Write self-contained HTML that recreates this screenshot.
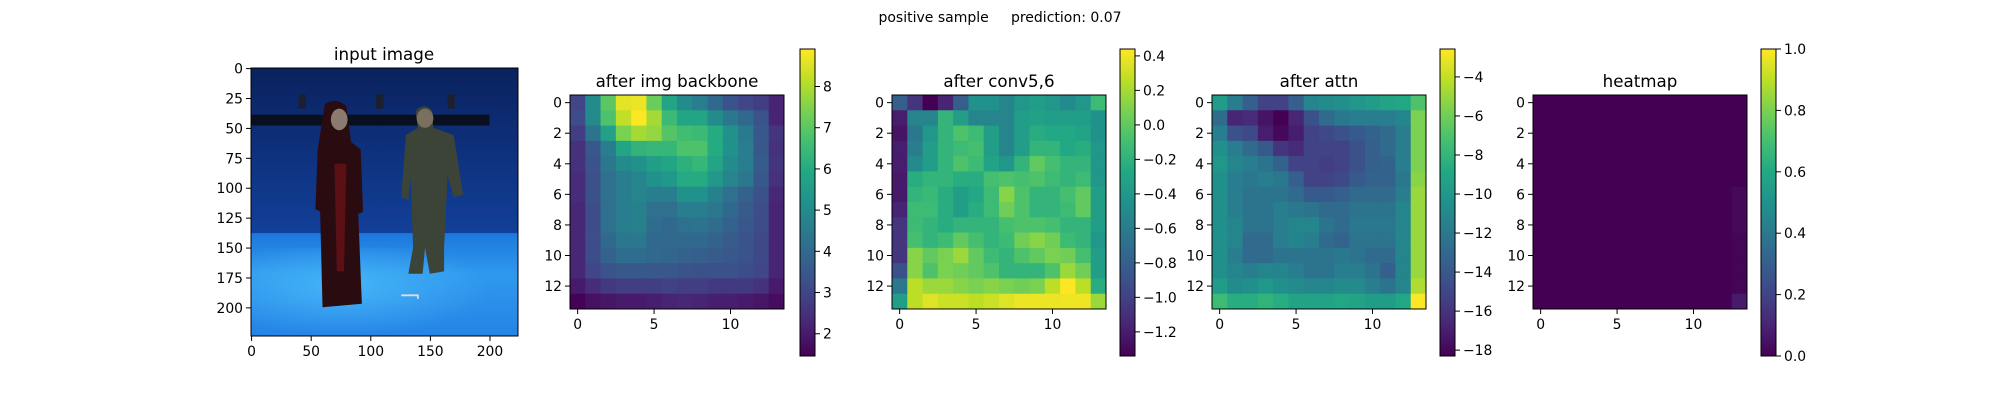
<!DOCTYPE html>
<html><head><meta charset="utf-8">
<style>
body{margin:0;background:#fff;}
svg{display:block;font-family:"DejaVu Sans","Liberation Sans",sans-serif;}
</style></head>
<body>
<svg id="fig" width="2000" height="400" viewBox="0 0 2000 400" xmlns="http://www.w3.org/2000/svg">
<rect width="2000" height="400" fill="#fff"/>
<text x="1000" y="22" font-size="14" text-anchor="middle" xml:space="preserve">positive sample     prediction: 0.07</text>
<g>
<text x="384" y="60" font-size="16.7" text-anchor="middle">input image</text>
<svg x="251" y="68" width="267" height="268" viewBox="0 0 224 224" preserveAspectRatio="none">
<defs>
<linearGradient id="wall" x1="0" y1="0" x2="0" y2="1"><stop offset="0" stop-color="#0a225e"/><stop offset="1" stop-color="#12409a"/></linearGradient>
<linearGradient id="floor" x1="0" y1="0" x2="0" y2="1"><stop offset="0" stop-color="#1c78dc"/><stop offset="0.4" stop-color="#2f98ee"/><stop offset="1" stop-color="#2584e6"/></linearGradient>
<radialGradient id="glow" cx="0.35" cy="0.45" r="0.55"><stop offset="0" stop-color="#55c8ff" stop-opacity="0.6"/><stop offset="1" stop-color="#55c8ff" stop-opacity="0"/></radialGradient>
</defs>
<rect width="224" height="140" fill="url(#wall)"/>
<rect y="138" width="224" height="86" fill="url(#floor)"/>
<rect y="150" width="224" height="74" fill="url(#glow)"/>
<rect x="0" y="39" width="200" height="9" fill="#0a0f20"/>
<rect x="40" y="22" width="6" height="12" fill="#1a2030"/><rect x="105" y="22" width="6" height="12" fill="#1a2030"/><rect x="165" y="22" width="6" height="12" fill="#1a2030"/>
<path d="M62 30 Q72 24 80 32 L84 62 L92 68 L94 120 L90 122 L93 197 L60 200 L58 120 L54 118 L56 68 Z" fill="#2a0c10"/>
<path d="M70 80 L80 80 L78 170 L72 170 Z" fill="#5a1015"/>
<ellipse cx="74" cy="43" rx="7" ry="9" fill="#8a7a70"/>
<path d="M138 36 Q146 28 152 36 L153 50 L170 56 L178 106 L170 108 L165 90 L162 150 L162 170 L150 172 L146 150 L144 172 L132 172 L136 150 L134 92 L132 110 L126 108 L130 56 L140 50 Z" fill="#3c4438"/>
<ellipse cx="146" cy="42" rx="7" ry="8" fill="#7a7060"/>
<path d="M126 190 L140 190 L140 193" stroke="#ddd" stroke-width="1.5" fill="none"/>
</svg>
<rect x="251" y="68" width="267" height="268" fill="none" stroke="#000" stroke-width="1"/>
</g>
<g id="panels"></g>
</svg>
<script>
// ---- data ----
const imgXTicks = [0, 50, 100, 150, 200];
const imgYTicks = [0, 25, 50, 75, 100, 125, 150, 175, 200];
const gridXTicks = [0, 5, 10];
const gridYTicks = [0, 2, 4, 6, 8, 10, 12];
const panelTitles = ["after img backbone", "after conv5,6", "after attn", "heatmap"];
const backboneRange = [1.46, 8.91];
const convRange = [-1.34, 0.44];
const attnRange = [-18.3, -2.57];
const heatRange = [0, 1];
const backboneTicks = [2, 3, 4, 5, 6, 7, 8];
const convTicks = [-1.2, -1.0, -0.8, -0.6, -0.4, -0.2, 0.0, 0.2, 0.4];
const attnTicks = [-18, -16, -14, -12, -10, -8, -6, -4];
const heatTicks = [0.0, 0.2, 0.4, 0.6, 0.8, 1.0];
const backbone = [
[3.0,5.0,7.0,8.6,8.7,7.2,5.8,5.0,4.6,4.0,3.4,3.0,2.8,2.2],
[3.2,5.0,6.8,8.2,8.9,7.9,6.5,5.8,5.8,5.0,4.4,4.0,3.4,2.2],
[2.8,4.3,5.7,7.4,7.9,7.7,6.9,6.6,6.5,6.0,5.2,4.5,3.5,2.6],
[2.5,3.5,4.6,5.8,6.3,6.4,6.4,6.8,6.8,6.0,5.2,4.6,3.5,2.5],
[2.5,3.4,4.4,5.0,5.2,5.6,5.8,6.2,6.4,5.8,5.0,4.6,3.6,2.6],
[2.4,3.3,4.2,4.6,4.8,5.2,5.4,6.0,6.0,5.4,4.8,4.4,3.5,2.5],
[2.4,3.3,4.2,4.6,4.8,4.6,4.6,5.2,5.2,4.7,4.2,3.8,3.3,2.3],
[2.3,3.2,4.2,4.6,4.7,4.2,4.2,4.6,4.6,4.4,4.0,3.6,3.2,2.2],
[2.3,3.2,4.2,4.6,4.7,4.1,4.0,4.2,4.3,4.1,3.8,3.5,3.2,2.2],
[2.3,3.2,4.0,4.4,4.4,4.0,4.0,4.0,4.0,3.8,3.6,3.4,3.1,2.2],
[2.3,3.2,3.8,4.1,4.1,4.0,3.9,3.8,3.7,3.6,3.5,3.4,3.1,2.2],
[2.3,3.0,3.4,3.5,3.5,3.5,3.5,3.4,3.3,3.3,3.3,3.2,3.0,2.2],
[2.0,2.4,2.7,2.8,2.8,2.8,2.9,2.8,2.8,2.7,2.7,2.7,2.5,2.0],
[1.5,1.8,1.9,2.0,2.0,2.1,2.2,2.3,2.2,2.1,2.1,2.0,1.9,1.7]];
const conv = [
[-0.81,-1.07,-1.34,-1.16,-0.81,-0.45,-0.45,-0.54,-0.41,-0.36,-0.41,-0.49,-0.41,-0.13],
[-1.20,-0.54,-0.54,-0.18,-0.36,-0.54,-0.54,-0.54,-0.36,-0.33,-0.36,-0.36,-0.36,-0.45],
[-1.25,-0.63,-0.41,-0.18,-0.06,-0.13,-0.36,-0.54,-0.36,-0.24,-0.27,-0.27,-0.31,-0.45],
[-1.20,-0.59,-0.36,-0.18,-0.13,-0.09,-0.36,-0.54,-0.36,-0.18,-0.18,-0.27,-0.24,-0.41],
[-1.20,-0.49,-0.36,-0.18,-0.06,-0.13,-0.31,-0.41,-0.18,0.00,-0.09,-0.18,-0.18,-0.41],
[-1.22,-0.24,-0.18,-0.18,-0.24,-0.24,-0.09,-0.06,-0.09,-0.06,-0.13,-0.18,-0.13,-0.41],
[-1.22,-0.18,-0.15,-0.24,-0.36,-0.27,-0.13,0.12,-0.06,-0.18,-0.18,-0.09,0.00,-0.36],
[-1.16,-0.13,-0.13,-0.24,-0.36,-0.24,-0.13,0.05,-0.06,-0.18,-0.18,-0.13,0.00,-0.36],
[-1.07,-0.13,-0.18,-0.24,-0.18,-0.18,-0.18,-0.09,-0.06,-0.06,-0.09,-0.18,-0.18,-0.36],
[-1.07,-0.09,-0.18,-0.13,0.00,-0.09,-0.18,-0.13,0.05,0.12,0.05,-0.13,-0.18,-0.41],
[-1.07,0.12,0.00,0.08,0.17,0.00,-0.13,-0.18,-0.06,0.00,0.08,0.05,-0.09,-0.36],
[-0.90,0.12,-0.06,0.08,0.05,0.00,-0.06,-0.18,-0.18,-0.18,-0.06,0.17,0.05,-0.36],
[-0.63,0.26,0.17,0.17,0.12,0.08,0.12,0.08,0.05,0.08,0.26,0.44,0.26,-0.24],
[-0.36,0.26,0.35,0.30,0.30,0.26,0.30,0.35,0.39,0.39,0.39,0.40,0.40,0.17]];
const attn = [
[-9.7,-11.7,-13.6,-15.2,-15.2,-13.6,-11.2,-10.8,-10.5,-10.1,-9.7,-9.2,-8.9,-7.0],
[-12.8,-16.7,-16.4,-17.5,-18.3,-16.7,-14.4,-12.8,-12.0,-11.7,-11.7,-11.7,-11.2,-5.7],
[-11.7,-14.4,-14.8,-17.0,-18.0,-17.0,-15.2,-14.8,-14.4,-13.9,-13.3,-12.8,-11.7,-5.7],
[-10.5,-11.7,-12.8,-13.9,-15.9,-16.4,-15.2,-15.2,-15.2,-14.4,-13.6,-12.8,-11.7,-5.7],
[-10.1,-11.2,-11.7,-12.3,-13.3,-15.2,-15.2,-15.5,-15.2,-14.4,-13.6,-13.3,-11.7,-5.7],
[-10.5,-11.7,-12.0,-11.7,-12.0,-13.6,-15.2,-15.2,-14.8,-13.9,-13.3,-13.3,-12.0,-5.4],
[-10.5,-11.7,-12.3,-12.3,-12.3,-12.8,-13.9,-13.9,-13.6,-12.8,-12.8,-12.8,-11.7,-5.0],
[-10.5,-11.7,-12.3,-12.3,-11.7,-12.0,-12.3,-12.8,-12.8,-12.3,-12.3,-12.3,-11.2,-5.0],
[-10.5,-11.2,-12.3,-12.3,-11.7,-11.2,-11.2,-12.3,-12.8,-12.0,-12.0,-12.0,-11.2,-5.0],
[-10.5,-11.2,-12.8,-12.8,-11.7,-11.2,-11.7,-12.8,-13.3,-12.3,-12.3,-12.3,-11.2,-5.0],
[-10.5,-11.7,-12.8,-12.8,-12.3,-12.3,-12.3,-12.3,-12.0,-12.3,-12.8,-12.8,-11.2,-5.0],
[-10.5,-11.2,-11.7,-11.2,-11.2,-11.7,-12.3,-12.3,-11.7,-11.7,-12.3,-13.6,-11.2,-5.0],
[-9.7,-10.8,-10.5,-10.1,-10.5,-10.8,-11.2,-11.2,-10.8,-10.8,-11.7,-12.3,-11.2,-4.5],
[-7.6,-8.6,-8.6,-8.1,-8.6,-9.2,-9.2,-9.2,-8.9,-9.2,-9.7,-9.7,-8.9,-2.6]];
const heat = [
[0,0,0,0,0,0,0,0,0,0,0,0,0,0],
[0,0,0,0,0,0,0,0,0,0,0,0,0,0],
[0,0,0,0,0,0,0,0,0,0,0,0,0,0],
[0,0,0,0,0,0,0,0,0,0,0,0,0,0],
[0,0,0,0,0,0,0,0,0,0,0,0,0,0],
[0,0,0,0,0,0,0,0,0,0,0,0,0,0],
[0,0,0,0,0,0,0,0,0,0,0,0,0,0.02],
[0,0,0,0,0,0,0,0,0,0,0,0,0,0.02],
[0,0,0,0,0,0,0,0,0,0,0,0,0,0.02],
[0,0,0,0,0,0,0,0,0,0,0,0,0,0.01],
[0,0,0,0,0,0,0,0,0,0,0,0,0,0.01],
[0,0,0,0,0,0,0,0,0,0,0,0,0,0.01],
[0,0,0,0,0,0,0,0,0,0,0,0,0,0.01],
[0,0,0,0,0,0,0,0,0,0,0,0,0,0.07]];

// ---- rendering ----
const NS = "http://www.w3.org/2000/svg";
const VIR = ["#440154","#482475","#414487","#355f8d","#2a788e","#21918c","#22a884","#44bf70","#7ad151","#bddf26","#fde725"];
function hex(h){return [parseInt(h.slice(1,3),16),parseInt(h.slice(3,5),16),parseInt(h.slice(5,7),16)];}
function viridis(t){
  t=Math.max(0,Math.min(1,t));
  const p=t*10, i=Math.min(9,Math.floor(p)), f=p-i;
  const a=hex(VIR[i]), b=hex(VIR[i+1]);
  return "rgb("+a.map((v,k)=>Math.round(v+(b[k]-v)*f)).join(",")+")";
}
function mk(tag, attrs, parent){
  const e=document.createElementNS(NS,tag);
  for(const k in attrs) e.setAttribute(k,attrs[k]);
  parent.appendChild(e); return e;
}
function fmt(v, dec){ const s=v.toFixed(dec); return s.replace("-","\u2212"); }
const root=document.getElementById("panels");

// input image ticks
(function(){
  const L=251,T=68,W=267,H=268;
  const sx=v=>L+(v+0.5)/224*W, sy=v=>T+(v+0.5)/224*H;
  imgXTicks.forEach(v=>{
    const l=mk("line",{x1:sx(v),x2:sx(v),y1:T+H,y2:T+H+5,stroke:"#000"},root);
    
    
    const t=mk("text",{x:sx(v),y:T+H+20,"font-size":13.9,"text-anchor":"middle"},root);
    t.textContent=v;
    
    
  });
  imgYTicks.forEach(v=>{
    const l=mk("line",{x1:L-5,x2:L,y1:sy(v),y2:sy(v),stroke:"#000"},root);
    
    
    const t=mk("text",{x:L-8,y:sy(v)+5,"font-size":13.9,"text-anchor":"end"},root);
    t.textContent=v;
    
    
  });
})();

const panelData=[backbone,conv,attn,heat];
const panelRanges=[backboneRange,convRange,attnRange,heatRange];
const panelTicks=[backboneTicks,convTicks,attnTicks,heatTicks];
const panelDec=[0,1,0,1];
const panelLeft=[570,892,1212,1533];
const cbLeft=[800,1120,1440,1761];
const panelNames=["backbone","conv56","attn","heatmap"];

panelData.forEach((grid,pi)=>{
  const g=mk("g",{},root);
  
  
  const L=panelLeft[pi],T=95,S=214,n=grid.length,c=S/n;
  const [vmin,vmax]=panelRanges[pi];
  const sx=v=>L+(v+0.5)*c, sy=v=>T+(v+0.5)*c;
  const tt=mk("text",{x:L+S/2,y:T-8,"font-size":16.7,"text-anchor":"middle"},g);
  tt.textContent=panelTitles[pi];
  
  
  grid.forEach((row,r)=>row.forEach((v,col)=>{
    const cell=mk("rect",{x:L+col*c,y:T+r*c,width:c+0.4,height:c+0.4,fill:viridis((v-vmin)/(vmax-vmin))},g);
    
    
  }));
  const fr=mk("rect",{x:L,y:T,width:S,height:S,fill:"none",stroke:"#000"},g);
  
  
  gridXTicks.forEach(v=>{
    const l=mk("line",{x1:sx(v),x2:sx(v),y1:T+S,y2:T+S+5,stroke:"#000"},g);
    
    
    const t=mk("text",{x:sx(v),y:T+S+20,"font-size":13.9,"text-anchor":"middle"},g);
    t.textContent=v;
    
    
  });
  gridYTicks.forEach(v=>{
    const l=mk("line",{x1:L-5,x2:L,y1:sy(v),y2:sy(v),stroke:"#000"},g);
    
    
    const t=mk("text",{x:L-8,y:sy(v)+5,"font-size":13.9,"text-anchor":"end"},g);
    t.textContent=v;
    
    
  });
  // colorbar
  const CX=cbLeft[pi],CT=49,CH=307,CW=15;
  const gid="cbg"+pi;
  const defs=mk("defs",{},g);
  const lg=mk("linearGradient",{id:gid,x1:0,y1:1,x2:0,y2:0},defs);
  for(let k=0;k<=20;k++) mk("stop",{offset:k/20,"stop-color":viridis(k/20)},lg);
  const cb=mk("rect",{x:CX,y:CT,width:CW,height:CH,fill:"url(#"+gid+")",stroke:"#000"},g);
  
  
  const cy=v=>CT+CH-(v-vmin)/(vmax-vmin)*CH;
  panelTicks[pi].forEach(v=>{
    const l=mk("line",{x1:CX+CW,x2:CX+CW+5,y1:cy(v),y2:cy(v),stroke:"#000"},g);
    
    
    const t=mk("text",{x:CX+CW+8,y:cy(v)+5,"font-size":13.9},g);
    t.textContent=fmt(v,panelDec[pi]);
    
    
  });
});
</script>
</body></html>
